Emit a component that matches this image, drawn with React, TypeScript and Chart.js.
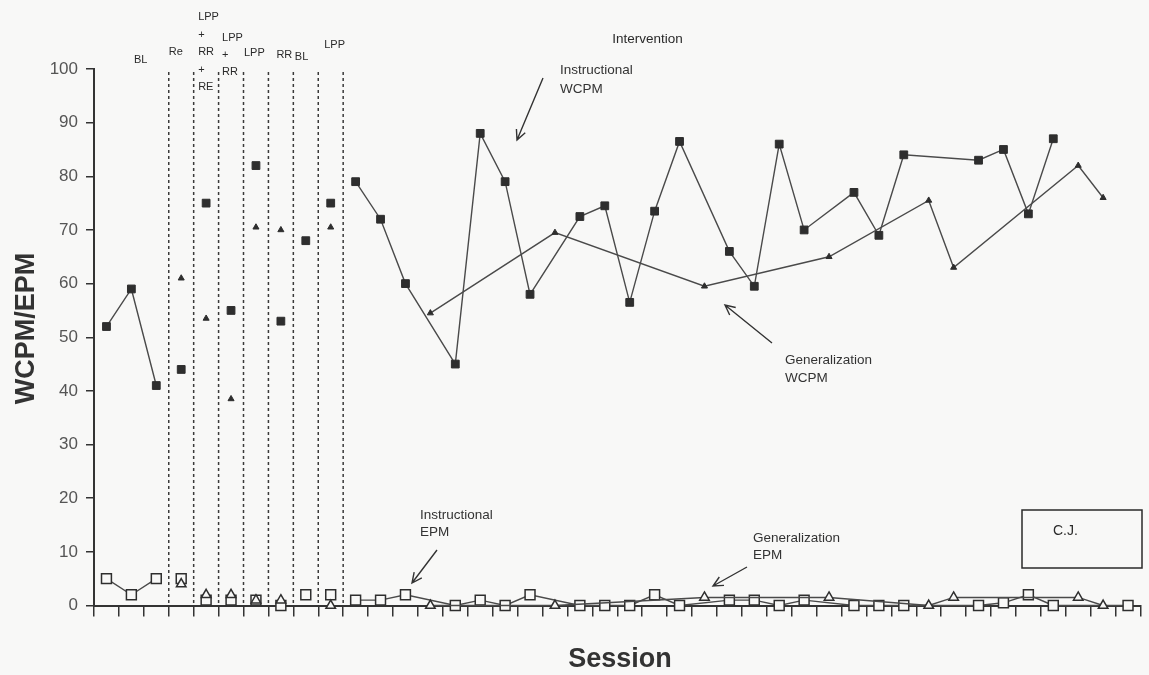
import React, { useEffect, useRef } from 'react';
import { Chart, registerables } from 'chart.js';

Chart.register(...registerables);

// ---- data ----
const sessions = [
  '1', '2', '3', '4', '5', '6', '7', '8', '9', '10',
  '11', '12', '13', '14', '15', '16', '17', '18', '19', '20',
  '21', '22', '23', '24', '25', '26', '27', '28', '29', '30',
  '31', '32', '33', '34', '35', '36', '37', '38', '39', '40',
  '41', '42',
];

const instructionalWCPM = [
  52, 59, 41, 44, 75, 55, 82, 53, 68, 75,
  79, 72, 60, null, 45, 88, 79, 58, null, 72.5,
  74.5, 56.5, 73.5, 86.5, null, 66, 59.5, 86, 70, null,
  77, 69, 84, null, null, 83, 85, 73, 87, null,
  null, null,
];

const generalizationWCPM = [
  null, null, null, 61, 53.5, 38.5, 70.5, 70, null, 70.5,
  null, null, null, 54.5, null, null, null, null, 69.5, null,
  null, null, null, null, 59.5, null, null, null, null, 65,
  null, null, null, 75.5, 63, null, null, null, null, 82,
  76, null,
];

const instructionalEPM = [
  5, 2, 5, 5, 1, 1, 1, 0, 2, 2,
  1, 1, 2, null, 0, 1, 0, 2, null, 0,
  0, 0, 2, 0, null, 1, 1, 0, 1, null,
  0, 0, 0, null, null, 0, 0.5, 2, 0, null,
  null, 0,
];

const generalizationEPM = [
  null, null, null, 4, 2, 2, 1, 1, null, 0,
  null, null, null, 0, null, null, null, null, 0, null,
  null, null, null, null, 1.5, null, null, null, null, 1.5,
  null, null, null, 0, 1.5, null, null, null, null, 1.5,
  0, null,
];

const yTickValues = [0, 10, 20, 30, 40, 50, 60, 70, 80, 90, 100];

// phases: first session of each phase, and its label
const phaseStarts = [1, 4, 5, 6, 7, 8, 9, 10, 11];
const phaseNames = [
  ['BL'],
  ['Re'],
  ['LPP', '+', 'RR', '+', 'RE'],
  ['LPP', '+', 'RR'],
  ['LPP'],
  ['RR'],
  ['BL'],
  ['LPP'],
  ['Intervention'],
];
// dashed condition lines drawn after these sessions
const phaseLineAfter = [3, 4, 5, 6, 7, 8, 9, 10];
// phases whose points are joined by lines (first and last session)
const linkedPhases = [
  [1, 3],
  [11, 42],
];

const annotationTexts = [
  ['Instructional', 'WCPM'],
  ['Generalization', 'WCPM'],
  ['Instructional', 'EPM'],
  ['Generalization', 'EPM'],
];
const caseLabel = 'C.J.';
const xTitle = 'Session';
const yTitle = 'WCPM/EPM';

// ---- styles / layout ----
const BG = '#f8f8f7';
const INK = '#2e2e2e';
const LINE = '#4a4a4a';
const FONT = "'Liberation Sans', Arial, sans-serif";

const phaseLabelLayout = [
  { dx: 40, y: 60, lh: 17 },
  { dx: 0, y: 52, lh: 17 },
  { dx: 4.5, y: 17, lh: 17.5 },
  { dx: 3.5, y: 38, lh: 17 },
  { dx: 0.5, y: 53, lh: 17 },
  { dx: 8, y: 55, lh: 17 },
  { dx: 1.5, y: 57, lh: 17 },
  { dx: 6, y: 45, lh: 17 },
  { dx: 269, y: 39, lh: 17 },
];

const annotationLayout = [
  { x: 560, y: 70, lh: 19, from: [543, 78], to: [517, 140] },
  { x: 785, y: 360, lh: 18, from: [772, 343], to: [725, 305] },
  { x: 420, y: 515, lh: 17, from: [437, 550], to: [412, 583] },
  { x: 753, y: 538, lh: 17, from: [747, 567], to: [713, 586] },
];

const inRange = (i: number, a: number, b: number) => i + 1 >= a && i + 1 <= b;
const inAnyLinked = (i: number) => linkedPhases.some(([a, b]) => inRange(i, a, b));

type SeriesStyle = {
  label: string;
  data: (number | null)[];
  pointStyle: string;
  radius: number;
  fill: string;
  borderWidth: number;
};

function buildDatasets(s: SeriesStyle) {
  const common = {
    borderColor: LINE,
    borderWidth: 1.4,
    pointStyle: s.pointStyle,
    pointRadius: s.radius,
    pointBackgroundColor: s.fill,
    pointBorderColor: INK,
    pointBorderWidth: s.borderWidth,
    clip: false,
    tension: 0,
  };
  const linked = linkedPhases.map(([a, b]) => ({
    ...common,
    label: `${s.label} ${a}-${b}`,
    data: s.data.map((v, i) => (inRange(i, a, b) ? v : null)),
    spanGaps: true,
    showLine: true,
  }));
  const isolated = {
    ...common,
    label: `${s.label} single`,
    data: s.data.map((v, i) => (inAnyLinked(i) ? null : v)),
    spanGaps: false,
    showLine: false,
  };
  return [...linked, isolated];
}

function drawArrow(ctx: CanvasRenderingContext2D, from: number[], to: number[]) {
  const [x1, y1] = from;
  const [x2, y2] = to;
  ctx.beginPath();
  ctx.moveTo(x1, y1);
  ctx.lineTo(x2, y2);
  const ang = Math.atan2(y2 - y1, x2 - x1);
  const len = 11;
  const spread = 0.45;
  ctx.moveTo(x2 - len * Math.cos(ang - spread), y2 - len * Math.sin(ang - spread));
  ctx.lineTo(x2, y2);
  ctx.lineTo(x2 - len * Math.cos(ang + spread), y2 - len * Math.sin(ang + spread));
  ctx.stroke();
}

const decorPlugin = {
  id: 'decor',
  beforeDraw(chart: any) {
    const ctx = chart.ctx;
    ctx.save();
    ctx.fillStyle = BG;
    ctx.fillRect(0, 0, chart.width, chart.height);
    ctx.restore();
  },
  beforeDatasetsDraw(chart: any) {
    const ctx = chart.ctx;
    const x = chart.scales.x;
    const area = chart.chartArea;
    ctx.save();
    ctx.strokeStyle = '#3a3a3a';
    ctx.lineWidth = 1.5;
    ctx.setLineDash([3, 3]);
    for (const s of phaseLineAfter) {
      const px = (x.getPixelForValue(s - 1) + x.getPixelForValue(s)) / 2;
      ctx.beginPath();
      ctx.moveTo(px, 72);
      ctx.lineTo(px, area.bottom);
      ctx.stroke();
    }
    ctx.restore();
  },
  afterDraw(chart: any) {
    const ctx = chart.ctx;
    const x = chart.scales.x;
    const step = x.getPixelForValue(1) - x.getPixelForValue(0);
    ctx.save();
    // phase labels
    ctx.fillStyle = '#2a2a2a';
    ctx.textBaseline = 'middle';
    ctx.textAlign = 'left';
    phaseNames.forEach((lines, i) => {
      const lay = phaseLabelLayout[i];
      const left = x.getPixelForValue(phaseStarts[i] - 1) - step / 2 + lay.dx;
      ctx.font = (i === phaseNames.length - 1 ? '13.5px ' : '11px ') + FONT;
      lines.forEach((t, j) => ctx.fillText(t, left, lay.y + j * lay.lh));
    });

    // annotations with arrows
    ctx.font = '13.5px ' + FONT;
    ctx.fillStyle = '#333';
    ctx.strokeStyle = '#333';
    ctx.lineWidth = 1.4;
    annotationTexts.forEach((lines, i) => {
      const lay = annotationLayout[i];
      lines.forEach((t, j) => ctx.fillText(t, lay.x, lay.y + j * lay.lh));
      drawArrow(ctx, lay.from, lay.to);
    });

    // case box
    ctx.lineWidth = 1.5;
    ctx.strokeStyle = '#2a2a2a';
    ctx.strokeRect(1022, 510, 120, 58);
    ctx.font = '14px ' + FONT;
    ctx.fillStyle = '#2a2a2a';
    ctx.fillText(caseLabel, 1053, 531);

    // axis titles
    ctx.fillStyle = '#333';
    ctx.font = 'bold 27px ' + FONT;
    ctx.textAlign = 'center';
    ctx.fillText(xTitle, 620, 660);
    ctx.translate(27, 328.5);
    ctx.rotate(-Math.PI / 2);
    ctx.fillText(yTitle, 0, 0);
    ctx.restore();
  },
};

export default function App() {
  const canvasRef = useRef<HTMLCanvasElement | null>(null);

  useEffect(() => {
    const canvas = canvasRef.current;
    if (!canvas) return;
    const datasets = [
      ...buildDatasets({
        label: 'Generalization EPM',
        data: generalizationEPM,
        pointStyle: 'triangle',
        radius: 5.5,
        fill: BG,
        borderWidth: 1.5,
      }),
      ...buildDatasets({
        label: 'Instructional EPM',
        data: instructionalEPM,
        pointStyle: 'rect',
        radius: 7,
        fill: BG,
        borderWidth: 1.5,
      }),
      ...buildDatasets({
        label: 'Generalization WCPM',
        data: generalizationWCPM,
        pointStyle: 'triangle',
        radius: 3.5,
        fill: INK,
        borderWidth: 1,
      }),
      ...buildDatasets({
        label: 'Instructional WCPM',
        data: instructionalWCPM,
        pointStyle: 'rect',
        radius: 5.5,
        fill: INK,
        borderWidth: 1,
      }),
    ];
    const chart = new Chart(canvas, {
      type: 'line',
      data: { labels: sessions, datasets: datasets as any },
      options: {
        animation: false,
        responsive: false,
        maintainAspectRatio: false,
        layout: { padding: { top: 69, right: 3, left: 0, bottom: 0 } },
        plugins: {
          legend: { display: false },
          tooltip: { enabled: false },
          title: { display: false },
        },
        scales: {
          x: {
            type: 'category',
            offset: true,
            grid: {
              offset: true,
              drawOnChartArea: false,
              drawTicks: true,
              tickLength: 11,
              color: '#333',
              lineWidth: 1.5,
            },
            border: { display: true, color: '#333', width: 2 },
            ticks: { display: false },
            afterFit: (s: any) => {
              s.height = 69.5;
            },
          },
          y: {
            min: 0,
            max: 100,
            afterBuildTicks: (s: any) => {
              s.ticks = yTickValues.map((v) => ({ value: v }));
            },
            ticks: {
              color: '#555',
              font: { size: 17, family: FONT },
              padding: 8,
            },
            grid: {
              drawOnChartArea: false,
              drawTicks: true,
              tickLength: 8,
              color: '#333',
              lineWidth: 1.5,
            },
            border: { display: true, color: '#333', width: 2 },
            afterFit: (s: any) => {
              s.width = 94;
            },
          },
        },
      } as any,
      plugins: [decorPlugin],
    });
    return () => chart.destroy();
  }, []);

  return (
    <div style={{ position: 'absolute', left: 0, top: 0, width: 1149, height: 675 }}>
      <canvas ref={canvasRef} width={1149} height={675} style={{ display: 'block' }} />
    </div>
  );
}
